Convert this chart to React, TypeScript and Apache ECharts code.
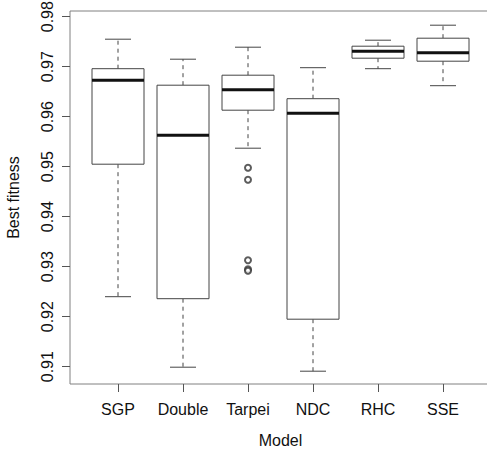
import React, { useEffect, useRef } from "react";
import * as echarts from "echarts";

const categories = ["SGP", "Double", "Tarpei", "NDC", "RHC", "SSE"];
// [lower whisker, Q1, median, Q3, upper whisker]
const lowerWhisker = [0.924, 0.9099, 0.9537, 0.9091, 0.9696, 0.9662];
const q1Values = [0.9505, 0.9236, 0.9613, 0.9195, 0.9717, 0.9711];
const medianValues = [0.9673, 0.9563, 0.9654, 0.9607, 0.9731, 0.9728];
const q3Values = [0.9696, 0.9663, 0.9683, 0.9636, 0.9741, 0.9757];
const upperWhisker = [0.9755, 0.9715, 0.9739, 0.9698, 0.9753, 0.9783];
const outlierCategory = ["Tarpei", "Tarpei", "Tarpei", "Tarpei", "Tarpei"];
const outlierValues = [0.9498, 0.9474, 0.9313, 0.9295, 0.9292];
const yTicks = [0.91, 0.92, 0.93, 0.94, 0.95, 0.96, 0.97, 0.98];

const FONT = "'Liberation Sans', Arial, Helvetica, sans-serif";

export default function App() {
  const ref = useRef<HTMLDivElement>(null);
  useEffect(() => {
    if (!ref.current) return;
    const chart = echarts.init(ref.current, undefined, { renderer: "svg" });
    const boxData = categories.map((_, i) => [
      i,
      lowerWhisker[i],
      q1Values[i],
      medianValues[i],
      q3Values[i],
      upperWhisker[i],
    ]);
    const lineColor = "#444";
    chart.setOption({
      animation: false,
      backgroundColor: "#fff",
      grid: [
        { left: 85.5, top: 11, width: 390, height: 373, show: false, outerBoundsMode: "none" },
        {
          left: 70,
          top: 11,
          width: 440,
          height: 373,
          show: true,
          borderColor: "#808080",
          borderWidth: 1,
          backgroundColor: "transparent",
          outerBoundsMode: "none",
          containLabel: false,
          z: 0,
        },
      ],
      xAxis: [
        {
          type: "category",
          gridIndex: 0,
          data: categories,
          boundaryGap: true,
          axisLine: { show: false },
          axisTick: {
            show: true,
            alignWithLabel: true,
            interval: 0,
            length: 8,
            lineStyle: { color: "#555" },
          },
          axisLabel: {
            interval: 0,
            margin: 17,
            fontSize: 16,
            color: "#111",
            fontFamily: FONT,
          },
          name: "Model",
          nameLocation: "middle",
          nameGap: 48,
          nameTextStyle: { fontSize: 16, color: "#111", fontFamily: FONT },
          splitLine: { show: false },
        },
        {
          type: "value",
          gridIndex: 1,
          show: false,
          min: 0,
          max: 1,
        },
      ],
      yAxis: [
        {
          type: "value",
          gridIndex: 0,
          min: 0.90654,
          max: 0.98114,
          offset: 15.5,
          axisLine: { show: false },
          splitLine: { show: false },
          axisTick: {
            show: true,
            length: 8,
            customValues: yTicks,
            lineStyle: { color: "#555" },
          },
          axisLabel: {
            customValues: yTicks,
            rotate: 90,
            margin: 15,
            fontSize: 16,
            color: "#111",
            fontFamily: FONT,
            formatter: (v: number) => v.toFixed(2),
          },
          name: "Best fitness",
          nameLocation: "middle",
          nameGap: 49,
          nameTextStyle: { fontSize: 16, color: "#111", fontFamily: FONT },
        },
        {
          type: "value",
          gridIndex: 1,
          show: false,
          min: 0,
          max: 1,
        },
      ],
      series: [
        {
          type: "custom",
          xAxisIndex: 0,
          yAxisIndex: 0,
          data: boxData,
          encode: { x: 0, y: [1, 2, 3, 4, 5] },
          renderItem: (params: any, api: any) => {
            const idx = api.value(0);
            const pMin = api.coord([idx, api.value(1)]);
            const pQ1 = api.coord([idx, api.value(2)]);
            const pMed = api.coord([idx, api.value(3)]);
            const pQ3 = api.coord([idx, api.value(4)]);
            const pMax = api.coord([idx, api.value(5)]);
            const band = api.size([1, 0])[0];
            const bw = band * 0.8;
            const cw = bw * 0.5;
            const cx = pMed[0];
            return {
              type: "group",
              children: [
                {
                  type: "line",
                  shape: { x1: cx, y1: pQ3[1], x2: cx, y2: pMax[1] },
                  style: { stroke: lineColor, lineWidth: 1, lineDash: [4, 4] },
                },
                {
                  type: "line",
                  shape: { x1: cx, y1: pQ1[1], x2: cx, y2: pMin[1] },
                  style: { stroke: lineColor, lineWidth: 1, lineDash: [4, 4] },
                },
                {
                  type: "line",
                  shape: { x1: cx - cw / 2, y1: pMax[1], x2: cx + cw / 2, y2: pMax[1] },
                  style: { stroke: lineColor, lineWidth: 1 },
                },
                {
                  type: "line",
                  shape: { x1: cx - cw / 2, y1: pMin[1], x2: cx + cw / 2, y2: pMin[1] },
                  style: { stroke: lineColor, lineWidth: 1 },
                },
                {
                  type: "rect",
                  shape: {
                    x: cx - bw / 2,
                    y: pQ3[1],
                    width: bw,
                    height: pQ1[1] - pQ3[1],
                  },
                  style: { fill: "#fff", stroke: lineColor, lineWidth: 1 },
                },
                {
                  type: "line",
                  shape: { x1: cx - bw / 2, y1: pMed[1], x2: cx + bw / 2, y2: pMed[1] },
                  style: { stroke: "#111", lineWidth: 3 },
                },
              ],
            };
          },
          z: 2,
        },
        {
          type: "scatter",
          xAxisIndex: 0,
          yAxisIndex: 0,
          data: outlierCategory.map((c, i) => [c, outlierValues[i]]),
          symbol: "emptyCircle",
          symbolSize: 6,
          itemStyle: { color: "#333", borderColor: "#333", borderWidth: 1 },
          z: 3,
        },
      ],
    });
    return () => chart.dispose();
  }, []);
  return (
    <div
      ref={ref}
      style={{ position: "fixed", left: 0, top: 0, width: 487, height: 452, background: "#fff" }}
    />
  );
}
